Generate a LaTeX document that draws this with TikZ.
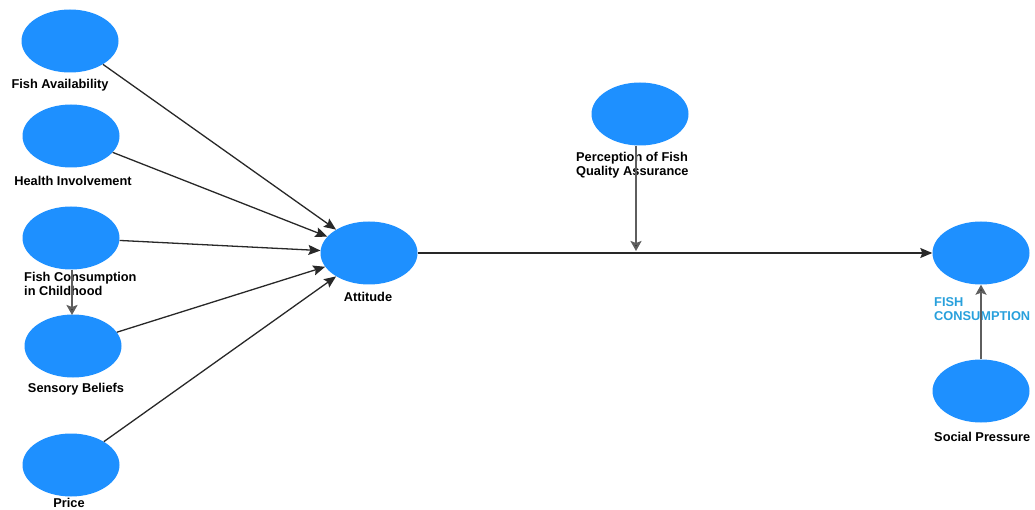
\documentclass[tikz,border=0pt]{standalone}
\usepackage{fontspec}
\setmainfont{Liberation Sans}
\usetikzlibrary{shapes.geometric,arrows.meta}
\definecolor{nodeblue}{RGB}{30,144,255}
\definecolor{labelblue}{RGB}{40,160,220}
\definecolor{linegray}{RGB}{40,40,40}
\begin{document}
\begin{tikzpicture}[x=1pt,y=-1pt,
  lv/.style={ellipse,fill=nodeblue,draw=none,minimum width=97pt,minimum height=63pt,inner sep=0pt},
  lbl/.style={font=\fontsize{12.8}{14}\selectfont\bfseries,inner sep=0pt,align=left},
  conn/.style={draw=linegray,line width=1.3pt,-{Stealth[length=12pt,width=10pt,inset=2pt]}},
  vconn/.style={draw=linegray!75,line width=2.2pt,-{Stealth[length=10pt,width=11pt,inset=2pt,fill=linegray]}}]
\useasboundingbox (0,0) rectangle (1035,510);
\node[lv] (fa) at (70,41) {};
\node[lv] (hi) at (71,136) {};
\node[lv] (fc) at (71,238) {};
\node[lv] (sb) at (73,346) {};
\node[lv] (pr) at (71,465) {};
\node[lv] (att) at (369,253) {};
\node[lv] (pq) at (640,114) {};
\node[lv] (fcon) at (981,253) {};
\node[lv] (sp) at (981,391) {};

\node[lbl] (lfa) at (60,85) {Fish Availability};
\node[lbl] (lhi) at (73,181) {Health Involvement};
\node[lbl,anchor=west] (lfc) at (24,284) {Fish Consumption\\in Childhood};
\node[lbl] (lsb) at (76,389) {Sensory Beliefs};
\node[lbl] (lpr) at (69,503) {Price};
\node[lbl] (latt) at (368,297) {Attitude};
\node[lbl,anchor=west] (lpq) at (576,165) {Perception of Fish\\Quality Assurance};
\node[lbl,anchor=west,text=labelblue] (lfcon) at (934,309) {FISH\\CONSUMPTION};
\node[lbl,anchor=west] (lsp) at (934,437) {Social Pressure};

\draw[conn] (fa) -- (att);
\draw[conn] (hi) -- (att);
\draw[conn] (fc) -- (att);
\draw[conn] (sb) -- (att);
\draw[conn] (pr) -- (att);
\draw[conn] (att) -- (fcon);
\coordinate (pj) at (636,251);
\draw[vconn] (pq.south -| pj) -- (pj);
\draw[vconn] (fc.south) ++(1,0) -- (72,315);
\draw[vconn] (sp.north) -- (fcon.south);
\end{tikzpicture}
\end{document}
